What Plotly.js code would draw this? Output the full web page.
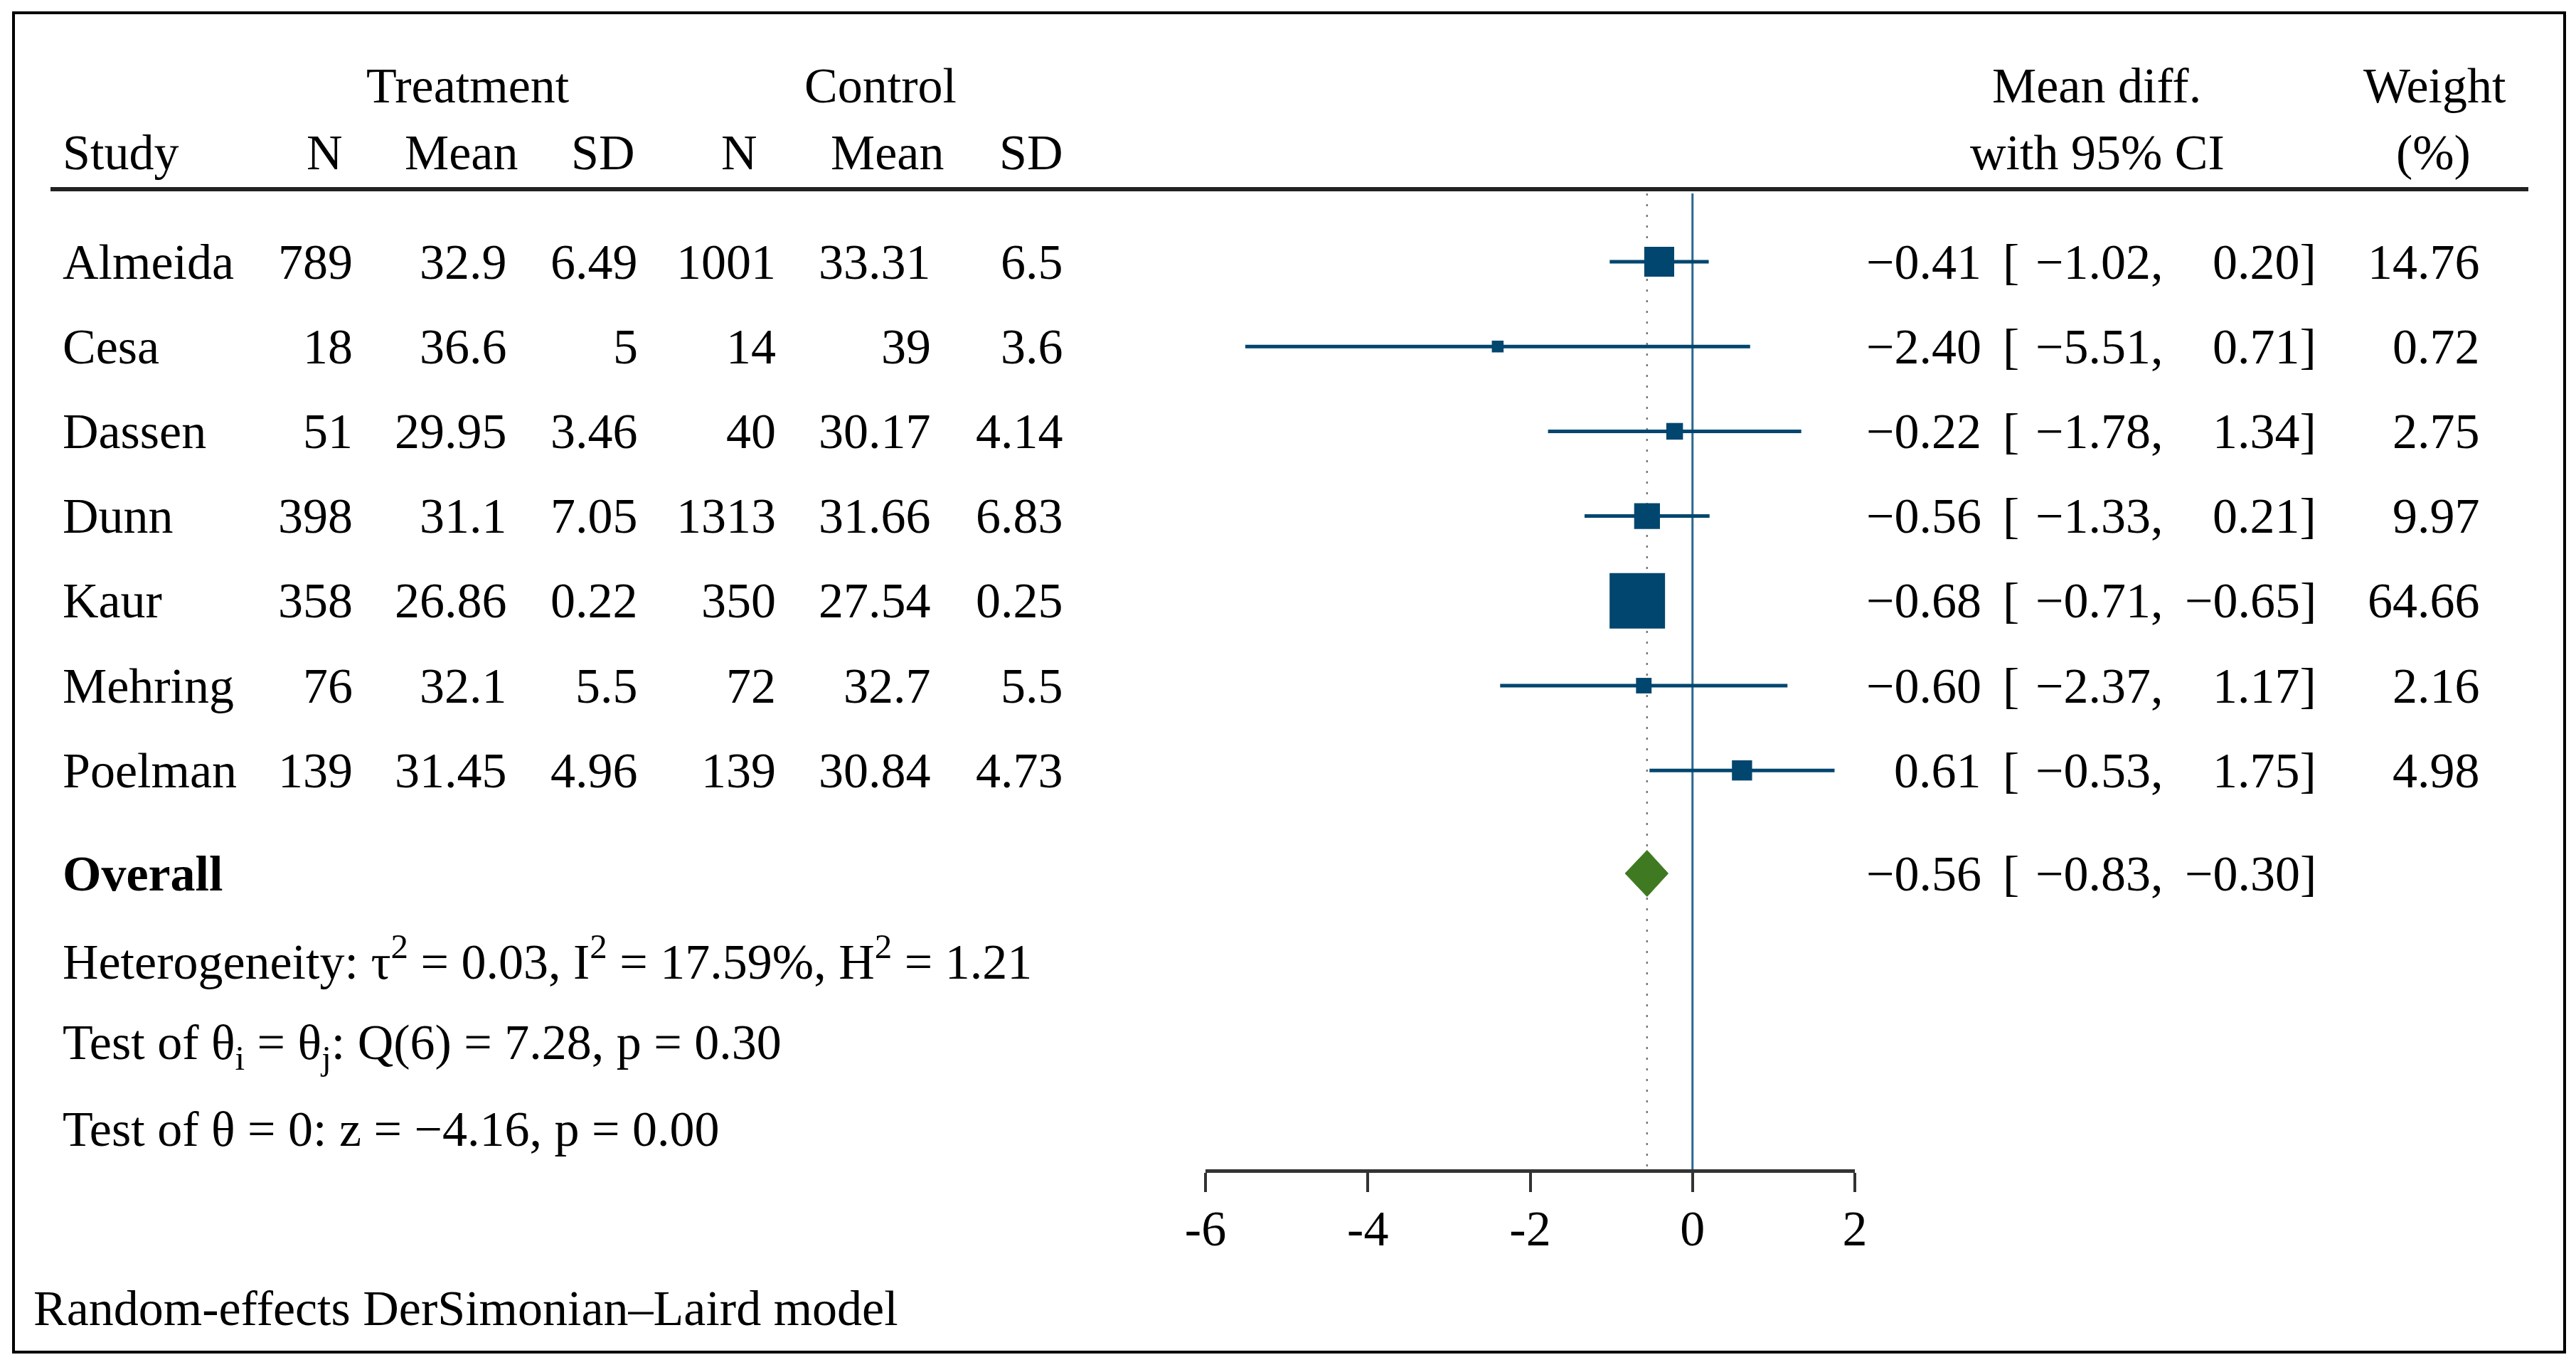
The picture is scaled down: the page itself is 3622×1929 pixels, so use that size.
<!DOCTYPE html>
<html>
<head>
<meta charset="utf-8">
<script src="https://cdn.plot.ly/plotly-3.0.1.min.js"></script>
<style>html,body{margin:0;padding:0;background:#fff;}#chart{width:3622px;height:1929px;}</style>
</head>
<body>
<div id="chart"></div>
<script>
// ---- data ----
const studies   = ['Almeida','Cesa','Dassen','Dunn','Kaur','Mehring','Poelman'];
const treatN    = [789, 18, 51, 398, 358, 76, 139];
const treatMean = [32.9, 36.6, 29.95, 31.1, 26.86, 32.1, 31.45];
const treatSD   = [6.49, 5, 3.46, 7.05, 0.22, 5.5, 4.96];
const ctrlN     = [1001, 14, 40, 1313, 350, 72, 139];
const ctrlMean  = [33.31, 39, 30.17, 31.66, 27.54, 32.7, 30.84];
const ctrlSD    = [6.5, 3.6, 4.14, 6.83, 0.25, 5.5, 4.73];
const meanDiff  = [-0.41, -2.40, -0.22, -0.56, -0.68, -0.60, 0.61];
const ciLow     = [-1.02, -5.51, -1.78, -1.33, -0.71, -2.37, -0.53];
const ciHigh    = [0.20, 0.71, 1.34, 0.21, -0.65, 1.17, 1.75];
const weights   = [14.76, 0.72, 2.75, 9.97, 64.66, 2.16, 4.98];
const overallMD = -0.56, overallLow = -0.83, overallHigh = -0.30;
const tau2 = '0.03', I2 = '17.59', H2 = '1.21';
const Qdf = 6, Qval = '7.28', Qp = '0.30';
const zVal = -4.16, zP = '0.00';
const tickVals = [-6, -4, -2, 0, 2];
const tickText = ['-6', '-4', '-2', '0', '2'];

// ---- layout constants ----
const W = 3622, H = 1929;
const FONT = 'Liberation Serif, Times New Roman, serif';
const FS = 70;
const NAVY = '#01466F', GREEN = '#3F7A22';
const row0 = 368, rowStep = 119.2;
const rowY = i => row0 + i * rowStep;
const overallY = 1228;
const lineTop = 272, axisY = 1646;
const px = x => x / W;
const fmt = v => (v < 0 ? '\u2212' : '') + Math.abs(v).toFixed(2);

// ---- traces ----
const traces = [];
// dotted overall line
traces.push({x:[overallMD, overallMD], y:[lineTop, axisY], mode:'lines', type:'scatter',
  line:{color:'#7a7a7a', width:2.5, dash:'3px,12px'}, hoverinfo:'skip'});
// zero line
traces.push({x:[0, 0], y:[lineTop, axisY], mode:'lines', type:'scatter',
  line:{color:'#2A6792', width:3}, hoverinfo:'skip'});
// CI lines
const cx = [], cy = [];
studies.forEach((s, i) => { cx.push(ciLow[i], ciHigh[i], null); cy.push(rowY(i), rowY(i), null); });
traces.push({x:cx, y:cy, mode:'lines', type:'scatter', line:{color:NAVY, width:5}, hoverinfo:'skip'});
// squares
traces.push({x:meanDiff, y:studies.map((s,i)=>rowY(i)), mode:'markers', type:'scatter', opacity:1,
  marker:{symbol:'square', color:NAVY, opacity:1, size:weights.map(w => 9.3 + 8.54*Math.sqrt(w)), line:{width:0}},
  hoverinfo:'skip'});
// diamond
const dh = 32.5;
traces.push({x:[overallLow, overallMD, overallHigh, overallMD, overallLow],
  y:[overallY, overallY-dh, overallY, overallY+dh, overallY],
  mode:'lines', type:'scatter', fill:'toself', fillcolor:GREEN, line:{color:GREEN, width:1}, hoverinfo:'skip'});

// ---- annotations ----
const ann = [];
function txt(x, y, text, anchor, extra) {
  ann.push(Object.assign({x:px(x), y:y, xref:'paper', yref:'y', text:text, showarrow:false,
    xanchor:anchor, yanchor:'middle', font:{family:FONT, size:FS, color:'#000'}, borderpad:0}, extra||{}));
}
// headers
const h1 = 120, h2 = 214;
txt(658, h1, 'Treatment', 'center');
txt(1238, h1, 'Control', 'center');
txt(2948, h1, 'Mean diff.', 'center');
txt(3423, h1, 'Weight', 'center');
txt(87, h2, 'Study', 'left');
txt(456, h2, 'N', 'center');
txt(648, h2, 'Mean', 'center');
txt(847, h2, 'SD', 'center');
txt(1039, h2, 'N', 'center');
txt(1247, h2, 'Mean', 'center');
txt(1449, h2, 'SD', 'center');
txt(2949, h2, 'with 95% CI', 'center');
txt(3421, h2, '(%)', 'center');
// rows
studies.forEach((s, i) => {
  const y = rowY(i);
  txt(87, y, s, 'left');
  txt(497, y, String(treatN[i]), 'right');
  txt(714, y, String(treatMean[i]), 'right');
  txt(898, y, String(treatSD[i]), 'right');
  txt(1092, y, String(ctrlN[i]), 'right');
  txt(1310, y, String(ctrlMean[i]), 'right');
  txt(1496, y, String(ctrlSD[i]), 'right');
  txt(2787, y, fmt(meanDiff[i]), 'right');
  txt(2815, y, '[', 'left');
  txt(3042, y, fmt(ciLow[i]) + ',', 'right');
  txt(3258, y, fmt(ciHigh[i]) + ']', 'right');
  txt(3488, y, weights[i].toFixed(2), 'right');
});
// overall
txt(87, overallY, '<b>Overall</b>', 'left');
txt(2787, overallY, fmt(overallMD), 'right');
txt(2815, overallY, '[', 'left');
txt(3042, overallY, fmt(overallLow) + ',', 'right');
txt(3258, overallY, fmt(overallHigh) + ']', 'right');
// stats
txt(87, 1347, 'Heterogeneity: \u03C4<sup>2</sup> = ' + tau2 + ', I<sup>2</sup> = ' + I2 + '%, H<sup>2</sup> = ' + H2, 'left');
txt(87, 1471, 'Test of \u03B8<sub>i</sub> = \u03B8<sub>j</sub>: Q(' + Qdf + ') = ' + Qval + ', p = ' + Qp, 'left');
txt(87, 1587, 'Test of \u03B8 = 0: z = ' + fmt(zVal) + ', p = ' + zP, 'left');
txt(46, 1839, 'Random-effects DerSimonian\u2013Laird model', 'left');

// ---- shapes ----
const shapes = [
  {type:'rect', xref:'paper', yref:'y', x0:px(19), x1:px(3606), y0:18, y1:1901, line:{color:'#000', width:4}},
  {type:'line', xref:'paper', yref:'y', x0:px(71), x1:px(3555), y0:266, y1:266, line:{color:'#222', width:6}}
];

const layout = {
  width:W, height:H, margin:{l:0, r:0, t:0, b:0, pad:0},
  paper_bgcolor:'#fff', plot_bgcolor:'rgba(0,0,0,0)', showlegend:false,
  xaxis:{domain:[1695/W, 2608/W], range:[-6, 2], anchor:'free', position:(H-axisY)/H,
    showline:true, linecolor:'#333', linewidth:5, ticks:'outside', ticklen:27, tickwidth:4, tickcolor:'#333',
    tickmode:'array', tickvals:tickVals, ticktext:tickText, tickfont:{family:FONT, size:FS, color:'#000'},
    ticklabelstandoff:-9,
    showgrid:false, zeroline:false, fixedrange:true},
  yaxis:{domain:[0,1], range:[H, 0], visible:false, showgrid:false, zeroline:false, fixedrange:true},
  annotations:ann, shapes:shapes
};
Plotly.newPlot('chart', traces, layout, {staticPlot:true, displayModeBar:false});
</script>
</body>
</html>
